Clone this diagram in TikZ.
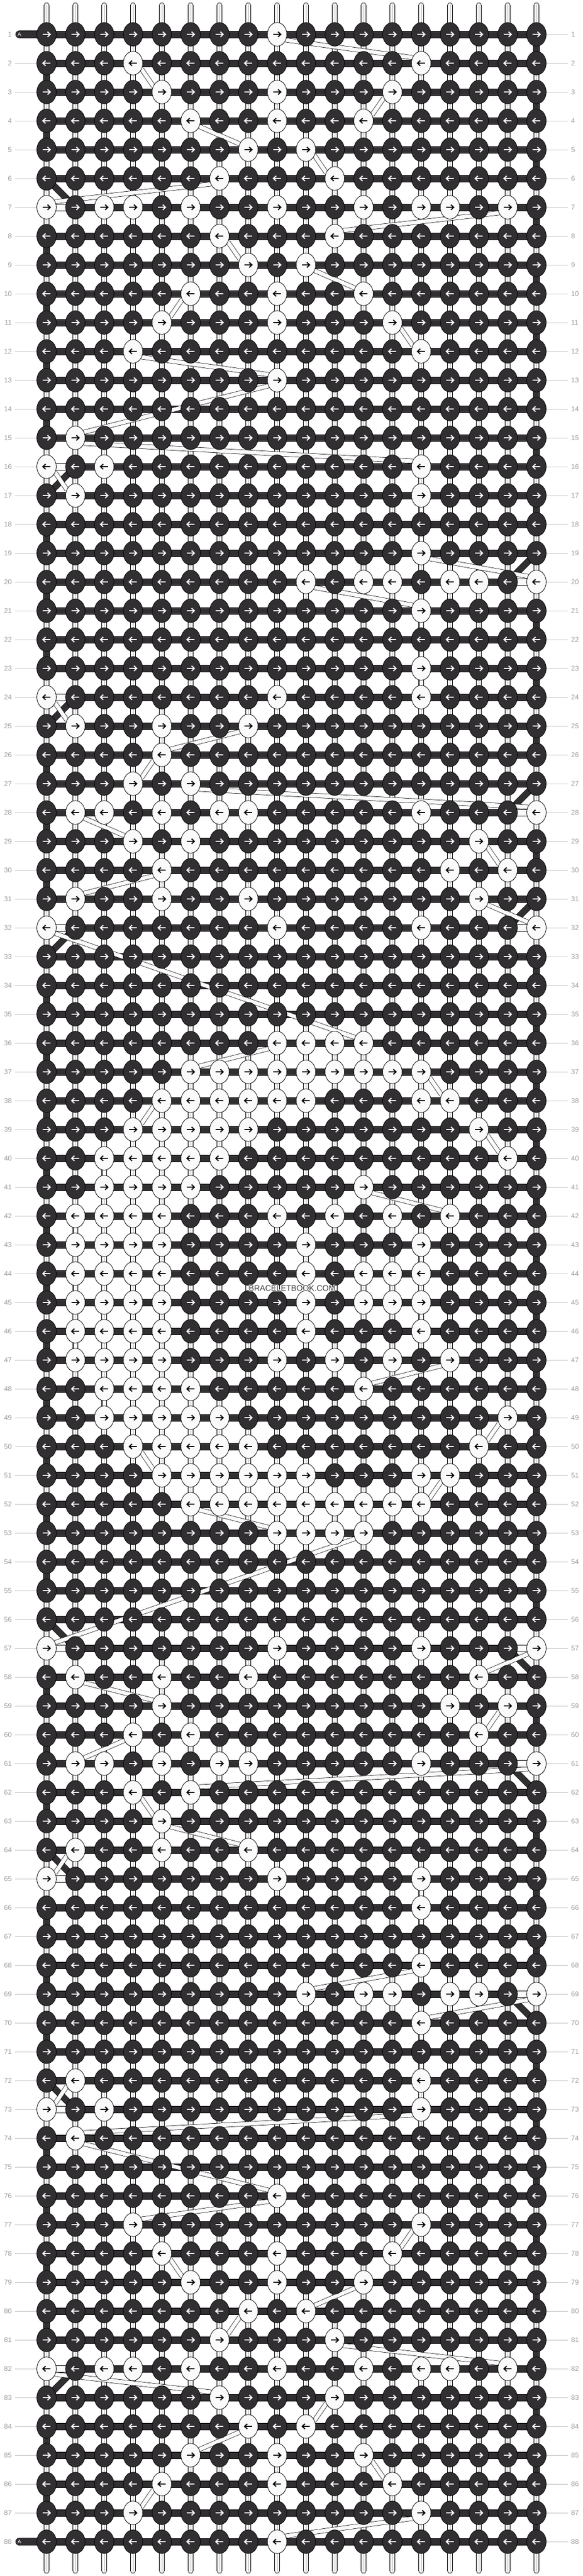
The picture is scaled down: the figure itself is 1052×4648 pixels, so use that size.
\documentclass[tikz,border=0pt]{standalone}
\usepackage{fontspec}
\setmainfont{Liberation Sans}
\usepackage{graphicx}
\usetikzlibrary{shapes.geometric}
\definecolor{kd}{RGB}{50,47,50}
\definecolor{kw}{RGB}{250,250,250}
\definecolor{lblc}{RGB}{155,155,155}
\definecolor{lnc}{RGB}{195,195,195}
\definecolor{strc}{RGB}{180,180,180}
\definecolor{wmc}{RGB}{60,60,60}
\newcommand\wdata{1/{9},2/{4,14},3/{5,9,13},4/{6,9,12},5/{8,10},6/{7,11},7/{1,3,4,6,9,12,14,15,17},8/{7,11},9/{8,10},10/{6,9,12},11/{5,9,13},12/{4,14},13/{9},15/{2},16/{1,3,14},17/{2,14},19/{14},20/{10,12,13,15,16,18},21/{14},23/{14},24/{1,9,14},25/{2,5,8},26/{5},27/{4,6},28/{2,3,5,7,8,14,18},29/{4,6,16},30/{5,15,17},31/{2,5,8,16},32/{1,9,14,18},36/{9,10,11,12},37/{6,7,8,9,10,11,12,13,14},38/{5,6,7,8,9,10,14,15},39/{4,5,6,7,8,16},40/{3,4,5,6,7,17},41/{3,4,5,6,12},42/{2,3,4,5,9,11,13,15},43/{2,3,4,5,10,14},44/{2,3,4,5,10,12,13,14}}
\newcommand\myarR[2]{\draw[#2,line width=2pt] ([xshift=-7pt]#1) -- ([xshift=6pt]#1); \draw[#2,line width=2pt,line join=miter] ([shift={(1.8,-4.6)}]#1) -- ([xshift=6.6pt]#1) -- ([shift={(1.8,4.6)}]#1);}
\newcommand\myarL[2]{\draw[#2,line width=2pt] ([xshift=7pt]#1) -- ([xshift=-6pt]#1); \draw[#2,line width=2pt,line join=miter] ([shift={(-1.8,-4.6)}]#1) -- ([xshift=-6.6pt]#1) -- ([shift={(-1.8,4.6)}]#1);}
\begin{document}
\begin{tikzpicture}[x=1pt,y=-1pt,
  knotD/.style={ellipse,draw=black,line width=0.8pt,fill=kd,minimum width=35pt,minimum height=42.6pt,inner sep=0pt},
  knotW/.style={ellipse,draw=black,line width=0.8pt,fill=kw,minimum width=35pt,minimum height=42.6pt,inner sep=0pt},
  vstr/.style={draw=black,line width=0.7pt,fill=kw},
  sline/.style={draw=strc,line width=0.8pt},
  hbar/.style={draw=black,line width=0.6pt,fill=kd},
  wbar/.style={draw=black,line width=0.6pt,fill=kw},
  vdark/.style={draw=black,line width=0.6pt,fill=kd},
  ddark/.style={draw=black,line width=0.7pt,double=kd,double distance=10.5pt},
  band/.style={draw=black,line width=0.7pt,double=kw,double distance=7pt},
  lbl/.style={text=lblc,font=\fontsize{12.5}{14}\selectfont,inner sep=0pt},
  lline/.style={draw=lnc,line width=1pt},
  capA/.style={draw=black,line width=0.6pt,fill=kd,rounded corners=6.5pt,minimum width=58pt,minimum height=13pt,inner sep=0pt},
  atext/.style={text=white,font=\fontsize{9.5}{10}\selectfont,inner sep=0pt},
  wm/.style={font=\fontsize{14.5}{15}\selectfont,inner sep=0pt}
]
\useasboundingbox (0,0) rectangle (1052,4648);
\fill[white] (0,0) rectangle (1052,4648);
% white-knot data (pattern is mirrored: row r equals row 89-r)
\foreach \r/\cs in \wdata {
  \pgfmathtruncatemacro\rr{89-\r}
  \foreach \c in \cs {
    \expandafter\xdef\csname w@\r @\c\endcsname{1}%
    \expandafter\xdef\csname w@\rr @\c\endcsname{1}%
  }
}
% grid coordinates
\foreach \r in {1,...,88}{
  \foreach \c in {1,...,18}{
    \coordinate (p-\r-\c) at ({84+52*(\c-1)},{62+52*(\r-1)});
  }
}
% vertical strings
\foreach \c in {1,...,18}{
  \coordinate (top-\c) at ({84+52*(\c-1)},5);
  \coordinate (bot-\c) at ({84+52*(\c-1)},4643);
  \draw[vstr,rounded corners=4.5pt] ([xshift=-4.5pt]top-\c) rectangle ([xshift=4.5pt]bot-\c);
  \draw[sline] ([yshift=-3pt]top-\c) -- ([yshift=3pt]bot-\c);
}
% horizontal bars
\foreach \r in {1,...,88}{
  \draw[hbar] ([yshift=6pt]p-\r-1) rectangle ([yshift=-6pt]p-\r-18);
}
% A caps
\node[capA,anchor=west] (cap-1) at (28,62) {};
\node[capA,anchor=west] (cap-88) at (28,4586) {};
\node[atext] (at-1) at (35,62) {A};
\node[atext] (at-88) at (35,4586) {A};
% turns of the background string
\foreach \r in {1,...,87}{
  \pgfmathtruncatemacro\rn{\r+1}
  \ifodd\r \def\myE{18}\def\myEp{17}\else\def\myE{1}\def\myEp{2}\fi
  \ifcsname w@\r @\myE\endcsname \def\wa{1}\else\def\wa{0}\fi
  \ifcsname w@\rn @\myE\endcsname \def\wb{1}\else\def\wb{0}\fi
  \ifnum\wa=0
    \ifnum\wb=0
      \draw[vdark] ([xshift=-5.5pt]p-\r-\myE) rectangle ([xshift=5.5pt]p-\rn-\myE);
    \else
      \draw[wbar] ([yshift=6pt]p-\rn-\myE) rectangle ([yshift=-6pt]p-\rn-\myEp);
      \draw[ddark] (p-\r-\myE) -- (p-\rn-\myEp);
    \fi
  \else
    \ifnum\wb=0
      \draw[wbar] ([yshift=6pt]p-\r-\myE) rectangle ([yshift=-6pt]p-\r-\myEp);
      \draw[ddark] (p-\r-\myEp) -- (p-\rn-\myE);
    \else
      \draw[wbar] ([yshift=6pt]p-\r-\myE) rectangle ([yshift=-6pt]p-\r-\myEp);
      \draw[wbar] ([yshift=6pt]p-\rn-\myE) rectangle ([yshift=-6pt]p-\rn-\myEp);
      \draw[vdark] ([xshift=-5.5pt]p-\r-\myEp) rectangle ([xshift=5.5pt]p-\rn-\myEp);
    \fi
  \fi
}
% carried white strands between rows
\gdef\prevR{0}\gdef\prevC{0}
\foreach \r in {1,...,88}{
  \gdef\mn{0}\gdef\mx{0}
  \foreach \c in {1,...,18}{
    \ifcsname w@\r @\c\endcsname
      \ifnum\mn=0 \xdef\mn{\c}\fi
      \xdef\mx{\c}%
    \fi
  }
  \ifnum\mn>0
    \ifodd\r \xdef\fst{\mn}\xdef\lst{\mx}\else\xdef\fst{\mx}\xdef\lst{\mn}\fi
    \ifnum\prevR>0
      \ifnum\fst>\prevC \def\sx{15}\def\sxn{-15}\else\ifnum\fst<\prevC \def\sx{-15}\def\sxn{15}\else\def\sx{0}\def\sxn{0}\fi\fi
      \draw[band] ([shift={(\sx,10)}]p-\prevR-\prevC) -- ([shift={(\sxn,-10)}]p-\r-\fst);
    \fi
    \xdef\prevR{\r}\xdef\prevC{\lst}
  \fi
}
% knots
\foreach \r in {1,...,88}{
  \foreach \c in {1,...,18}{
    \ifcsname w@\r @\c\endcsname
      \node[knotW] (k-\r-\c) at (p-\r-\c) {};
      \ifodd\r \myarR{p-\r-\c}{black}\else\myarL{p-\r-\c}{black}\fi
    \else
      \node[knotD] (k-\r-\c) at (p-\r-\c) {};
      \ifodd\r \myarR{p-\r-\c}{white}\else\myarL{p-\r-\c}{white}\fi
    \fi
  }
}
% row numbers
\foreach \r in {1,...,88}{
  \node[lbl,anchor=east] (ll-\r) at (21.5,{62+52*(\r-1)}) {\r};
  \node[lbl,anchor=west] (lr-\r) at (1030.5,{62+52*(\r-1)}) {\r};
  \draw[lline] (k-\r-18.east) -- ([xshift=-5.5pt]lr-\r.west);
}
\foreach \r in {2,...,87}{
  \draw[lline] ([xshift=5.5pt]ll-\r.east) -- (k-\r-1.west);
}
% watermark
\foreach \dx/\dy in {-1/-1,-1/0,-1/1,0/-1,0/1,1/-1,1/0,1/1}{
  \node[wm,text=white] at ({527+\dx},{2324+\dy}) {BRACELETBOOK.COM};
}
\node[wm,text=wmc] (wmark) at (527,2324) {BRACELETBOOK.COM};
\end{tikzpicture}
\end{document}
